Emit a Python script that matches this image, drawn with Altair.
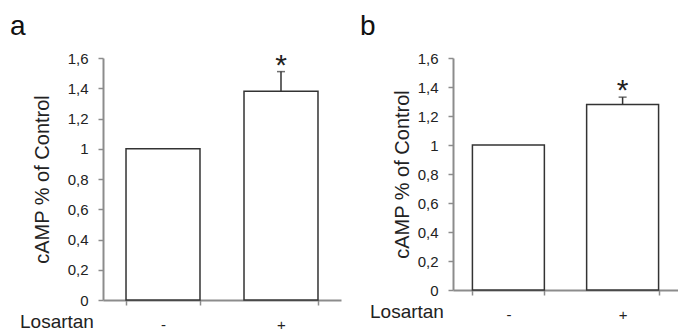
import altair as alt
import pandas as pd

# ---- data ----
treatment = ["-", "+"]
camp_a = [1.0, 1.38]
sem_a = [0.0, 0.13]
camp_b = [1.0, 1.28]
sem_b = [0.0, 0.05]
signif = ["", "*"]
y_ticks = [0, 0.2, 0.4, 0.6, 0.8, 1.0, 1.2, 1.4, 1.6]
y_title = "cAMP % of Control"
x_title = "Losartan"
panel_letters = ["a", "b"]

FONT = "Liberation Sans"
AXIS_GRAY = "#8c8c8c"
INK = "#222222"


def panel(vals, sems, letter, w, h, title_pad, star_dy, p_inner, p_outer):
    df = pd.DataFrame({"t": treatment, "v": vals, "sem": sems, "sig": signif})
    df["top"] = df["v"] + df["sem"]
    base = alt.Chart(df)

    xscale = alt.Scale(paddingInner=p_inner, paddingOuter=p_outer)
    yscale = alt.Scale(domain=[0, 1.6], nice=False, zero=True)

    x_axis = alt.Axis(
        title=None, labelAngle=0, tickBand="extent", labelFont=FONT,
        labelFontSize=15, labelColor=INK, labelBaseline="alphabetic",
        labelPadding=24, tickSize=5, tickColor=AXIS_GRAY, tickWidth=1.5,
        domainColor=AXIS_GRAY, domainWidth=2, grid=False,
    )
    y_axis = alt.Axis(
        values=y_ticks, labelOverlap=False, tickCount=9,
        labelExpr="replace(format(datum.value, '~g'), '.', ',')",
        title=y_title, titleFont=FONT, titleFontSize=20,
        titleFontWeight="normal", titleColor=INK, titlePadding=title_pad,
        labelFont=FONT, labelFontSize=15, labelColor=INK, labelPadding=10,
        tickSize=5, tickColor=AXIS_GRAY, tickWidth=1.5,
        domainColor=AXIS_GRAY, domainWidth=2, grid=False,
    )

    def X():
        return alt.X("t:N", sort=treatment, scale=xscale, axis=x_axis, title=None)

    def Y(field):
        return alt.Y(field, scale=yscale, axis=y_axis, title=y_title)

    bars = base.mark_bar(fill="white", stroke="#333333", strokeWidth=1.5).encode(
        x=X(), y=Y("v:Q")
    )
    err = base.transform_filter("datum.sem > 0").mark_rule(
        color="#333333", strokeWidth=1.5
    ).encode(x=X(), y=Y("v:Q"), y2="top:Q")
    cap = base.transform_filter("datum.sem > 0").mark_tick(
        color="#333333", thickness=1.5, size=8
    ).encode(x=X(), y=Y("top:Q"))
    star = base.mark_text(
        font=FONT, fontSize=30, baseline="alphabetic", dy=star_dy, color=INK
    ).encode(x=X(), y=Y("top:Q"), text="sig:N")

    los = alt.Chart(pd.DataFrame({"lab": [x_title]})).mark_text(
        font=FONT, fontSize=19, align="left", baseline="alphabetic", color=INK
    ).encode(x=alt.value(-83), y=alt.value(h + 28), text="lab:N")
    let = alt.Chart(pd.DataFrame({"lab": [letter]})).mark_text(
        font=FONT, fontSize=28, align="left", baseline="alphabetic", color="#111111"
    ).encode(x=alt.value(-93), y=alt.value(-23), text="lab:N")

    return alt.layer(bars, err, cap, star, los, let).properties(width=w, height=h)


pa = panel(camp_a, sem_a, panel_letters[0], 238, 242, 15, 3, 0.373, 0.195)
pb = panel(camp_b, sem_b, panel_letters[1], 225, 232, 5, 3, 0.37, 0.17)

chart = alt.hconcat(pa, pb, spacing=112).properties(
    bounds="flush",
    padding={"left": 10, "top": 13, "right": 0, "bottom": 0},
    background="white",
).configure_view(stroke=None)

chart.save("out.html", embed_options={"renderer": "svg", "actions": False})
